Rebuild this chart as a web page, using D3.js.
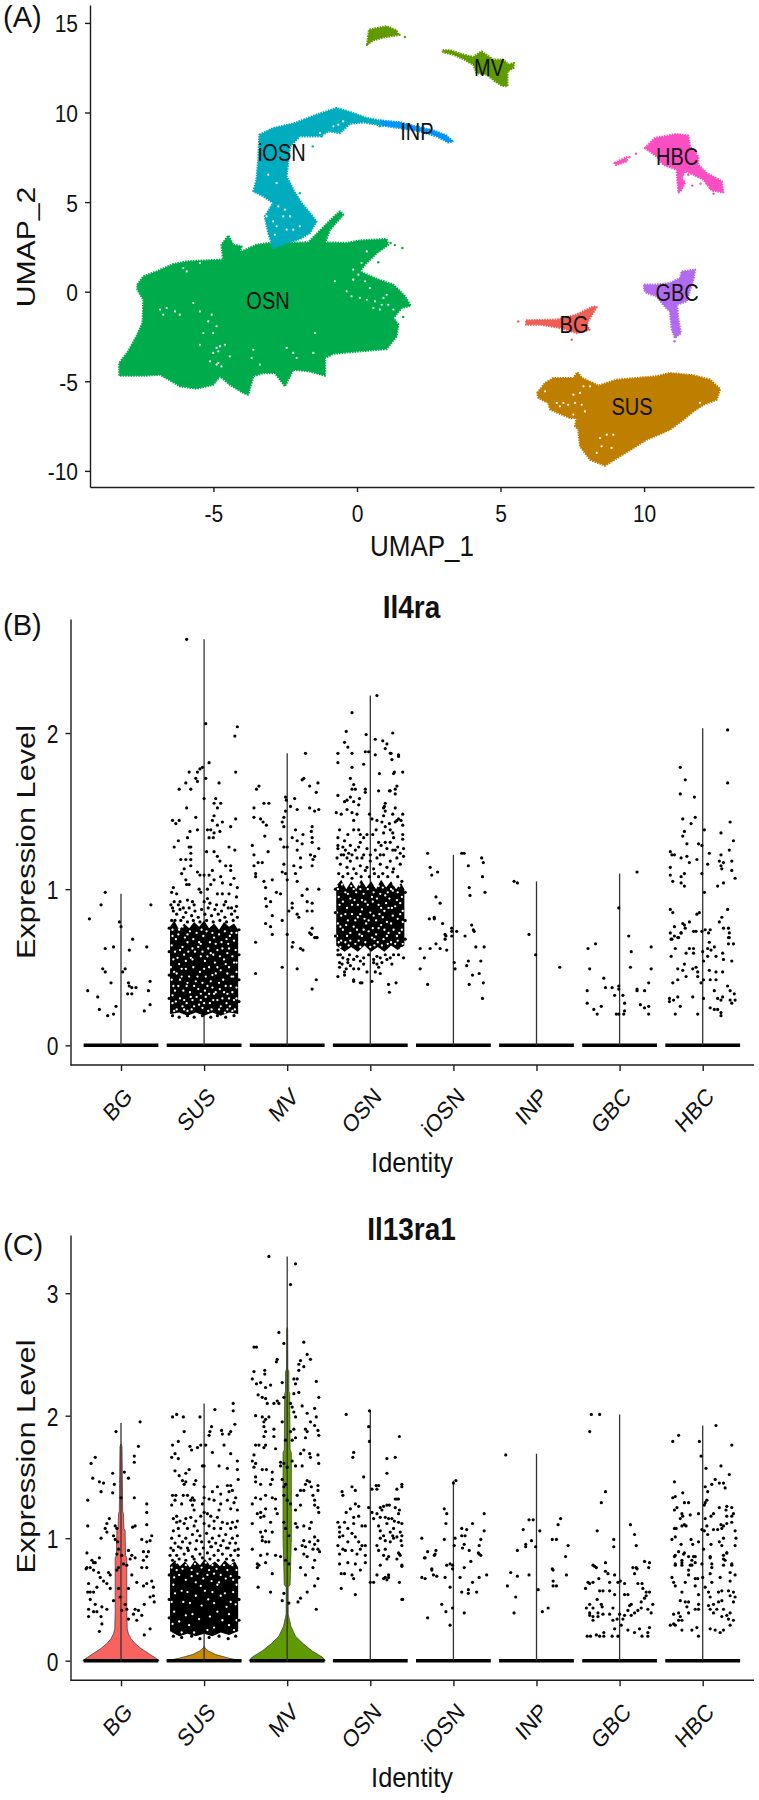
<!DOCTYPE html>
<html><head><meta charset="utf-8">
<style>html,body{margin:0;background:#fff}svg{display:block}text{font-family:"Liberation Sans",Arial,sans-serif;fill:#111}</style>
<script src="https://cdn.jsdelivr.net/npm/d3@7"></script></head><body><div id="c"></div>
<script>
const categories=["BG","SUS","MV","OSN","iOSN","INP","GBC","HBC"];
const umapTicksX=[-5,0,5,10], umapTicksY=[-10,-5,0,5,10,15];
const ticksB=[0,1,2], ticksC=[0,1,2,3];
const colorOSN="#00AB4C",colorIOSN="#00ACBD",colorINP="#0095FB",colorMV="#5F9A00",colorHBC="#F94FC3",colorBG="#EE5F58",colorGBC="#B26BEE",colorSUS="#BE7E00";

// UMAP cluster outlines, flat [UMAP_1,UMAP_2,...]
const osnShape=[-7.65,.39,-7.44,.86,-6.98,1.13,-6.4,1.54,-5.93,1.69,-5.18,1.75,-4.66,1.79,-4.72,2.62,-4.48,3.13,-4.31,2.62,-4.02,2.53,-4.08,2.2,-3.5,2.62,-3.03,2.72,-1.7,2.75,-.77,4.24,-.59,4.48,-.48,4.3,-.94,3.46,-1.11,2.75,-.36,2.72,.1,2.86,1.03,2.94,1.09,2.62,.69,2.16,.28,1.51,.1,1.13,.69,.71,1.27,.39,1.67,-.26,1.87,-.78,1.56,-.91,1.27,-1.47,1.44,-1.84,1.38,-2.49,1.03,-3.2,.1,-3.33,-.82,-3.46,-1.11,-3.7,-1.11,-4.69,-1.64,-4.45,-2.22,-4.35,-2.51,-5.28,-2.86,-4.54,-3.26,-4.54,-3.61,-4.72,-3.79,-5.75,-3.96,-5.65,-4.43,-5.19,-4.77,-4.72,-5.01,-5.19,-5.59,-5.41,-6.17,-5.28,-6.46,-5,-6.86,-4.63,-7.44,-4.69,-8.28,-4.69,-8.28,-3.98,-7.97,-3.33,-7.68,-2.49,-7.47,-1.75,-7.44,-.45,-7.65,.11];
const iosnShape=[-3.4,8.76,-2.92,9.13,-2.22,9.38,-1.41,9.88,-.71,10.25,-.13,9.97,.34,9.69,.8,9.56,.92,9.5,.92,9.26,.22,9.45,-.24,9.38,-.59,8.85,-1,8.95,-1.29,8.67,-1.99,8.67,-2.33,8.11,-2.39,7.37,-2.45,6.44,-2.22,5.69,-1.93,4.95,-1.64,4.39,-1.41,3.92,-1.64,3.27,-1.99,2.94,-2.45,2.72,-2.92,2.44,-3.09,3.27,-3.21,4.2,-2.92,4.95,-3.26,5.32,-3.61,5.6,-3.5,6.25,-3.44,7.37];
const inpShape=[.8,9.56,1.5,9.45,1.96,9.26,2.66,9,3.12,8.71,3.33,8.39,3.18,8.33,2.78,8.67,2.2,8.95,1.5,9.13,.92,9.26];
const mvShape=[2.98,13.47,3.24,13.47,3.71,13.23,4.05,13.1,4.34,13.41,4.5,13.23,4.75,12.95,5.1,12.95,5.27,12.67,5.47,12.76,5.45,12.48,5.24,12.3,5.24,11.46,5.04,11.5,4.81,11.74,4.52,12.11,4.17,12.2,4.05,12.67,3.71,12.98,3.36,13.23,3.01,13.36];
const mvShape2=[.35,13.78,.42,14.62,1.03,14.81,1.38,14.58,1.44,14.32,.98,14.21,.57,14.03];
const hbcShape=[10.03,8.02,10.38,8.58,11.14,8.8,11.54,8.71,11.6,8.11,11.89,7.55,11.89,7.09,12.18,6.62,12.71,6.16,12.76,5.54,12.36,5.65,12.07,6.25,11.72,6.53,11.43,6.72,11.31,6.34,11.43,6.1,11.31,5.69,11.2,5.54,11.16,6.25,11.14,6.81,10.67,7.09,10.44,7.55];
const hbcShape2=[8.97,7.18,9.4,7.51,9.4,7.27,9.02,7.07];
const bgShape=[5.89,-1.6,6.96,-1.56,7.65,-1.28,8.23,-.82,8.35,-.86,8.12,-1.47,8,-1.84,8.1,-2.12,7.65,-2.31,7.13,-2.03,6.38,-1.84,5.89,-1.84];
const gbcShape=[10,.39,10.44,.39,10.9,.48,11.25,.76,11.31,1.13,11.78,1.23,11.72,.67,11.6,.11,11.49,-.54,11.14,-.73,11.2,-1.56,11.28,-2.31,11.08,-2.59,10.97,-2.12,10.9,-1.1,10.67,-.73,10.44,-.26,10.09,-.07,10,.11];
const susShape=[6.28,-5.65,6.55,-5.1,6.84,-4.82,7.54,-4.82,7.68,-4.5,7.83,-4.82,8.23,-5.1,8.41,-5.25,9.05,-4.91,9.74,-4.82,10.44,-4.72,10.9,-4.54,11.72,-4.67,12.3,-4.91,12.65,-5.43,12.53,-6.03,12.07,-6.31,11.72,-6.68,11.37,-7.14,10.9,-7.7,10.09,-8.26,9.63,-8.72,9.16,-9.19,8.64,-9.71,8.12,-9.38,7.77,-8.63,7.71,-7.7,7.6,-7.51,7.65,-7.05,7.42,-7.05,6.73,-6.58,6.67,-6.21,6.32,-5.93];
// stray cells and gaps
const osnDots=[1.17,2.72,1.32,2.6,1.58,2.44,.74,1.64,1.61,-1.41];
const iosnDots=[-1.23,8.67,-1.54,8.11,-1.99,5.5,.8,9.23];
const mvDots=[1.48,14.34,1.67,14.21];
const hbcDots=[9.49,7.51,9.72,7.7,11.68,5.92,11.97,6.03,12.18,6.03,12.3,5.79,12.42,5.47,11.54,6.53];
const bgDots=[5.62,-1.66,7.48,-2.68];
const gbcDots=[11.06,-2.77];
const umapGaps=[.34,2.25,.16,1.6,-.13,1.23,.05,.95,.28,.58,.45,.2,-.13,.67,-.36,.02,-.19,-.26,-.77,.58,.34,-.45,.63,-.54,.92,-.35,1.03,-.17,.57,-.91,.8,-1,1.09,-.73,1.27,-1,.86,-.73,.1,-.35,-6.86,-1,-6.63,-.91,-6.34,-1.1,-6.17,-1.28,-6.75,-1.28,-5.47,-1.1,-5.06,-1.28,-5.18,-1.66,-4.89,-1.93,-5.01,-2.31,-5.35,-2.31,-4.77,-3.05,-5.01,-3.42,-4.6,-2.96,-5.12,-3.89,-4.89,-4.07,-4.72,-4.17,-4.43,-3.61,-3.61,-3.24,-3.67,-3.7,-2.45,-3.14,-2.22,-3.42,-1.46,-2.31,-1.52,-3.42,-2.1,-3.7,-3.38,-4.07,-5.47,-2.96,-5.7,-.63,-6.05,1.32,-5.47,1.6,-5.93,1.13,-4.83,-3.33,-4.89,-3.14,-4.83,-3.98,
-3.09,6.53,-2.8,6.06,-2.92,3.92,-2.8,3.65,-2.57,4.2,-2.45,3.46,-2.22,3.46,-1.99,3.65,-2.86,3.18,-2.33,4.2,-2.74,4.76,-2.51,4.58,-.82,9.23,-.65,9.32,-.48,9.5,-1.29,8.85,-3.15,4.2,
6.96,-6.21,7.19,-6.21,7.36,-6.31,7.07,-6.4,7.54,-5.75,7.77,-5.65,7.89,-5.28,8.12,-5.28,7.6,-6.21,7.83,-6.31,7.94,-6.68,7.54,-6.86,6.55,-5.56,8.47,-8.17,8.7,-7.98,8.93,-7.98,8.35,-9,8.52,-8.63,8.87,-8.72,11.95,-6.21];
const clusterNames=["OSN","iOSN","MV","INP","HBC","GBC","BG","SUS"];
const clusterLabelX=[-3.10,-2.62,4.60,2.09,11.15,11.15,7.56,9.58];
const clusterLabelY=[-.50,7.76,12.5,8.93,7.53,-.06,-1.84,-6.42];

// Il4ra: vertical line tops and jitter cells, flat [offset,value,...]
const maxB=[.97,2.6,1.87,2.24,1.22,1.05,1.1,2.03];
const b_BG=[-.19,.98,-.24,.9,-.38,.81,.36,.9,-.02,.79,0,.76,.14,.68,-.19,.62,-.09,.63,.1,.61,.31,.63,-.22,.49,-.19,.47,.05,.49,.02,.47,-.12,.4,.35,.41,.09,.4,.1,.38,.13,.37,.18,.37,-.4,.35,.33,.35,.08,.33,.13,.33,-.28,.31,-.06,.25,.35,.26,-.26,.23,.28,.22,-.16,.19,-.09,.2];
const b_SUS=[-.21,2.6,.02,2.06,.4,2.04,.37,1.98,.06,1.81,-.02,1.78,-.05,1.77,-.08,1.75,-.18,1.75,.38,1.75,-.1,1.71,-.08,1.69,.02,1.71,.18,1.68,-.22,1.68,-.3,1.64,-.16,1.64,0,1.58,.14,1.58,.12,1.55,.2,1.55,.16,1.52,-.21,1.52,-.1,1.46,.12,1.47,.1,1.44,.38,1.45,-.38,1.44,-.3,1.44,-.34,1.42,.22,1.43,.16,1.41,.32,1.4,-.08,1.38,.04,1.38,.08,1.38,-.17,1.37,.19,1.37,.12,1.36,.06,1.33,-.2,1.33,-.31,1.31,.11,1.33,-.18,1.27,-.16,1.27,-.36,1.27,.3,1.27,.37,1.25,-.16,1.23,.03,1.24,.12,1.24,.16,1.21,.19,1.18,-.28,1.19,-.22,1.19,-.16,1.19,-.24,1.13,-.27,1.1,-.16,1.15,-.08,1.11,-.05,1.09,0,1.09,.1,1.12,.06,1.09,.26,1.15,.32,1.15,.32,1.12,.2,1.08,.22,1.04,.36,1.07,.32,1.03,.12,1.06,.08,1.03,-.22,1.06,-.18,1.03,-.21,1.03,-.37,1.01,-.39,.98,-.33,.97,-.06,1,-.04,.98,.04,1,.4,1.01,.16,.97,.22,.97,.3,.97,-.2,.93,-.29,.92,-.36,.92,.04,.94,0,.92,.39,.95,.26,.92,-.38,.88,-.25,.88,-.12,.9,.15,.9,.33,.88,
-.4,.9,-.37,.86,-.33,.84,-.29,.87,-.25,.82,-.22,.85,-.18,.88,-.15,.83,-.11,.86,-.07,.82,-.03,.87,.01,.84,.05,.88,.09,.83,.13,.87,.17,.84,.21,.86,.25,.82,.29,.88,.33,.84,.37,.86,.4,.82,-.39,.8,-.35,.8,-.28,.8,-.2,.79,-.13,.8,-.05,.79,.03,.8,.11,.79,.19,.8,.27,.79,.35,.8,-.31,.9,-.14,.92,.07,.91,.24,.9,.39,.89,-.42,.75,.42,.74,-.42,.6,.42,.58,-.42,.45,.42,.42,-.42,.3,.42,.28,-.38,.19,-.3,.18,-.2,.19,-.12,.18,-.02,.19,.08,.18,.16,.19,.26,.18,.36,.19];
const b_MV=[.22,1.87,-.34,1.66,-.37,1.64,.2,1.71,.18,1.7,.27,1.66,.37,1.68,.35,1.62,-.02,1.59,-.01,1.57,.09,1.58,-.28,1.55,-.22,1.55,-.4,1.52,.04,1.53,.12,1.51,.27,1.52,.33,1.5,.38,1.51,-.02,1.5,-.4,1.46,-.32,1.45,-.29,1.43,-.25,1.41,-.04,1.46,-.06,1.43,-.04,1.4,.1,1.38,.3,1.4,.29,1.37,.3,1.33,.3,1.3,.19,1.35,.06,1.33,-.27,1.34,-.08,1.32,.12,1.31,-.42,1.28,-.04,1.27,0,1.27,.18,1.29,.38,1.26,-.23,1.24,-.4,1.22,.12,1.25,.28,1.22,.33,1.21,.31,1.19,-.35,1.17,-.3,1.17,-.4,1.15,.16,1.2,.16,1.14,-.04,1.16,-.06,1.11,-.02,1.1,.08,1.15,.1,1.1,.3,1.15,-.38,1.1,-.38,1.08,0,1.06,.12,1.05,-.28,1.05,-.18,1.06,-.26,1.01,-.13,.98,-.08,.97,.24,1,.38,1,.18,.96,-.26,.94,-.2,.92,-.25,.89,.06,.91,.06,.88,.02,.86,.24,.92,.3,.91,.24,.86,.3,.86,.14,.82,.12,.84,-.18,.83,-.06,.8,-.26,.78,-.2,.76,.3,.75,.27,.72,-.18,.71,0,.71,.35,.69,-.38,.66,.07,.66,.06,.63,.16,.62,.19,.61,.33,.69,.36,.69,.29,.71,-.06,.5,.12,.49,-.38,.46,.35,.42,.3,.36];
const b_OSN=[.08,2.24,-.22,2.13,-.29,2.01,-.05,1.99,.06,1.96,.15,1.95,.2,1.93,.27,2,-.31,1.94,-.27,1.91,-.22,1.87,-.39,1.87,-.06,1.88,-.02,1.88,.06,1.86,.24,1.87,.26,1.83,.34,1.86,-.39,1.81,-.08,1.8,-.22,1.78,.11,1.74,.29,1.75,-.24,1.71,-.2,1.67,-.18,1.64,-.22,1.64,-.06,1.64,-.06,1.62,.1,1.63,.24,1.63,-.39,1.6,-.28,1.57,-.31,1.56,-.24,1.59,-.2,1.56,-.13,1.58,-.14,1.54,.18,1.55,.16,1.52,-.41,1.49,-.35,1.48,-.28,1.51,-.22,1.49,-.16,1.48,-.2,1.44,-.01,1.48,.02,1.45,.08,1.44,.16,1.47,.14,1.43,.32,1.44,.18,1.9,.25,1.87,.34,1.85,.39,1.75,.28,1.74,.32,1.66,.3,1.64,.3,1.61,.23,1.63,.17,1.53,.3,1.52,.18,1.5,.39,1.48,.27,1.48,.34,1.45,.37,1.44,.23,1.42,.3,1.43,.39,1.41,.18,1.4,.24,1.38,.27,1.36,.39,1.35,.39,1.32,.28,1.33,.16,1.36,.18,1.3,.24,1.3,.4,1.26,.36,1.23,.3,1.25,-.39,1.33,-.37,1.38,-.27,1.35,-.31,1.31,-.2,1.38,-.14,1.38,-.12,1.35,-.04,1.35,-.08,1.33,-.39,1.28,-.33,1.27,-.24,1.28,-.18,1.25,-.04,1.26,-.35,1.22,-.28,1.2,-.22,1.22,-.1,1.2,0,1.22,.06,1.25,.1,1.3,.12,1.22,.03,1.35,.07,1.38,-.12,1.3,-.39,.58,-.39,.61,-.37,.53,-.37,.5,-.27,.55,-.27,.53,-.2,.55,-.12,.54,.04,.55,.04,.53,.12,.56,.14,.53,.1,.5,.2,.55,.28,.58,-.29,.49,-.2,.49,-.14,.49,-.04,.47,.06,.47,.12,.46,-.31,.47,-.39,.44,-.31,.45,-.2,.42,-.2,.41,-.12,.4,-.1,.4,.02,.41,.22,.39,.31,.4,.23,.34,
-.4,1.2,-.36,1.16,-.32,1.22,-.28,1.14,-.24,1.18,-.2,1.13,-.16,1.2,-.12,1.15,-.08,1.22,-.04,1.14,0,1.18,.04,1.13,.08,1.2,.12,1.16,.16,1.22,.2,1.14,.24,1.18,.28,1.13,.32,1.2,.36,1.16,.4,1.21,-.38,1.1,-.33,1.08,-.27,1.1,-.22,1.07,-.17,1.1,-.11,1.08,-.06,1.12,-.01,1.08,.05,1.1,.1,1.08,.15,1.1,.21,1.08,.27,1.11,.33,1.08,.38,1.05,-.39,1.26,-.3,1.25,-.26,1.23,-.14,1.27,.13,1.28,.2,1.26,.27,1.25,.33,1.27,-.42,1,-.42,.85,.42,.98,.42,.8,-.42,.7,.42,.68,-.36,.58,-.33,.56,-.25,.58,-.16,.57,-.08,.56,-.02,.58,.08,.57,.18,.58,.24,.56,.34,.58,.4,.56,-.34,.52,-.24,.51,-.08,.52,.08,.52,.26,.52];
const b_iOSN=[-.31,1.23,.1,1.23,.13,1.23,.34,1.2,.36,1.17,.18,1.15,-.28,1.14,-.26,1.09,-.19,1.11,.35,1.08,.19,1.01,.2,.96,.38,.98,-.21,.95,-.16,.91,-.29,.81,-.23,.82,-.23,.81,-.13,.78,.22,.77,.24,.74,-.02,.75,-.02,.73,.04,.73,-.09,.7,-.02,.7,.14,.7,-.1,.71,-.1,.68,.25,.73,-.4,.62,-.28,.62,-.21,.65,-.16,.62,-.08,.61,.27,.63,.37,.63,-.35,.56,.33,.54,.18,.54,.16,.51,.01,.53,.02,.49,-.4,.49,.23,.45,.31,.46,-.31,.39,.19,.39,.36,.4,.35,.3];
const b_INP=[-.27,1.05,-.23,1.04,-.09,.71,-.01,.58,.28,.5];
const b_GBC=[.21,1.11,-.01,.88,.11,.7,-.29,.65,-.38,.62,.38,.63,.14,.6,.13,.5,-.36,.49,.38,.49,-.19,.43,.35,.4,-.17,.37,-.09,.37,-.01,.38,-.01,.36,-.39,.35,.21,.36,.21,.35,.3,.35,-.06,.32,.04,.32,-.39,.27,.06,.27,.25,.26,-.22,.25,.3,.24,.35,.25,-.31,.23,-.27,.2,-.04,.2,-.01,.2,.05,.2,.06,.22,.35,.2];
const b_HBC=[.3,2.02,-.27,1.78,-.21,1.7,.3,1.68,-.27,1.61,-.1,1.59,-.09,1.46,-.24,1.45,-.14,1.42,.33,1.43,.02,1.38,-.22,1.37,-.24,1.34,.22,1.36,-.19,1.29,-.05,1.29,-.01,1.28,.37,1.31,.32,1.25,-.39,1.24,-.37,1.22,-.34,1.22,.08,1.23,.22,1.22,-.26,1.2,-.19,1.21,-.07,1.19,-.16,1.17,.06,1.16,.2,1.18,.25,1.17,.22,1.15,.23,1.13,.35,1.18,-.39,1.14,.35,1.12,-.01,1.1,-.39,1.09,-.22,1.1,-.26,1.08,.39,1.07,-.36,1.05,-.26,1.04,-.22,1.02,.25,1.04,.18,1.02,.02,.98,-.39,.87,-.36,.85,-.07,.84,-.04,.85,.3,.87,.23,.82,-.16,.79,.2,.79,-.24,.78,-.22,.77,-.34,.76,.25,.75,.31,.75,-.21,.75,-.11,.73,-.08,.73,-.01,.73,.03,.74,.09,.74,.07,.72,-.39,.72,-.26,.72,-.34,.7,-.29,.69,-.37,.68,.32,.72,.32,.69,-.38,.68,-.3,.69,-.26,.72,.31,.69,.31,.65,.37,.65,.08,.66,-.33,.62,-.16,.62,-.11,.62,-.2,.59,-.11,.59,.14,.63,.1,.61,.06,.62,0,.6,-.38,.57,.06,.57,.16,.57,.24,.59,.25,.55,.35,.54,.01,.54,-.22,.52,-.3,.49,-.24,.48,-.12,.49,-.08,.5,-.06,.47,.08,.48,.16,.47,.24,.47,-.2,.44,-.06,.44,-.3,.42,-.36,.4,.01,.42,.09,.42,.16,.42,-.02,.4,.3,.38,.14,.35,.33,.35,.38,.33,-.12,.31,-.3,.31,-.4,.3,-.4,.28,-.35,.29,.01,.3,.18,.3,.24,.31,.22,.29,.33,.29,.39,.29,.35,.27,-.27,.25,.09,.24,.14,.23,.18,.23,.22,.21,.22,.19,-.33,.2,-.06,.2];
const denseSusB=[-.41,.2,-.41,.76,-.36,.8,-.3,.74,-.24,.78,-.18,.75,-.12,.79,-.06,.76,0,.8,.06,.75,.12,.78,.18,.74,.24,.79,.3,.76,.36,.78,.41,.74,.41,.2,.3,.21,.2,.19,.1,.21,0,.19,-.1,.21,-.2,.19,-.3,.21];
const denseOsnB=[-.41,.64,-.41,1.02,-.35,1.06,-.29,1,-.23,1.05,-.17,1,-.11,1.06,-.05,1.01,.01,1.05,.07,1,.13,1.06,.19,1.01,.25,1.05,.31,1,.37,1.04,.41,1,.41,.64,.33,.61,.25,.64,.17,.6,.09,.63,.01,.6,-.07,.64,-.15,.6,-.23,.63,-.31,.6];
const gapsSusB=[-.2,.71,-.04,.65,.16,.61,.28,.59,-.27,.49,-.04,.57,.04,.57,.16,.5,.18,.4,.28,.46,.28,.33,-.04,.29,0,.27,-.2,.4,-.37,.38,-.33,.46,-.29,.61,.12,.69,-.08,.44,.36,.53,.36,.29,.2,.25,-.12,.25,-.33,.23,.28,.23,.12,.33,.04,.38,-.16,.31,-.24,.29,0,.49,.24,.55,-.37,.55,.32,.38,-.04,.33,-.29,.42,.16,.29,.08,.59,-.14,.55,-.22,.54,-.38,.27,.38,.61,-.3,.74,.33,.72,-.2,.66,.27,.68,-.38,.7,.1,.45,-.14,.62,.35,.44,-.03,.74,.05,.22,-.2,.22,.34,.22,
-.38,.74,-.34,.68,-.31,.71,-.26,.76,-.23,.69,-.17,.73,-.13,.68,-.09,.72,-.06,.66,-.01,.7,.03,.73,.07,.66,.1,.72,.14,.65,.18,.71,.21,.66,.25,.73,.29,.65,.31,.7,.36,.67,.39,.72,-.39,.64,-.35,.6,-.32,.56,-.26,.63,-.24,.58,-.19,.6,-.16,.56,-.11,.6,-.07,.63,-.02,.6,.01,.54,.05,.62,.11,.58,.13,.53,.19,.57,.22,.62,.26,.52,.3,.62,.34,.57,.39,.53,-.4,.5,-.36,.47,-.3,.52,-.27,.44,-.22,.49,-.18,.44,-.13,.5,-.1,.41,-.05,.47,.02,.44,.06,.5,.08,.41,.14,.46,.2,.48,.23,.42,.26,.38,.3,.5,.33,.44,.39,.47,-.39,.42,-.35,.35,-.31,.38,-.25,.35,-.21,.38,-.17,.34,-.12,.38,-.07,.36,-.02,.4,.01,.35,.06,.33,.1,.37,.14,.34,.19,.36,.24,.34,.3,.3,.34,.34,.39,.37,-.38,.32,-.34,.28,-.29,.3,-.26,.25,-.21,.27,-.14,.29,-.09,.31,-.06,.26,.02,.31,.07,.27,.11,.29,.18,.23,.22,.3,.27,.27,.31,.25,.39,.3,-.36,.22,-.24,.23,-.15,.23,-.02,.24,.09,.23,.25,.21,.37,.23];
const gapsOsnB=[-.2,1.0,-.05,1.03,.1,1.02,.25,1.0,.35,1.02,-.3,.98,-.12,1,.04,.98,.18,.96,.32,.93,-.37,.9,-.22,.9,-.06,.92,.1,.9,.26,.88,-.3,.84,-.15,.82,0,.85,.15,.82,.36,.84,-.36,.76,-.2,.76,-.05,.78,.1,.75,.25,.78,-.28,.7,-.1,.7,.05,.68,.2,.7,.35,.72,-.38,.66,-.18,.65,0,.63,.3,.65,.14,.64,.27,.99,-.4,1.02,-.1,.87,.07,.8,.22,.88,
-.39,1,-.34,1.03,-.27,.97,-.23,1.02,-.17,.98,-.13,1.03,-.08,.97,-.03,1,.02,.95,.06,1.02,.12,.97,.15,1.01,.21,.98,.28,1.03,.33,.98,.38,.95,-.38,.95,-.33,.92,-.28,.88,-.24,.94,-.19,.93,-.15,.9,-.1,.93,-.03,.9,.03,.92,.08,.94,.13,.88,.19,.91,.23,.94,.3,.89,.36,.91,.39,.86,-.4,.85,-.35,.83,-.27,.8,-.22,.84,-.18,.8,-.12,.84,-.07,.81,-.02,.8,.04,.83,.11,.84,.17,.86,.2,.79,.27,.83,.33,.81,.39,.79,-.39,.78,-.33,.74,-.29,.77,-.24,.72,-.16,.74,-.13,.71,-.08,.74,-.02,.73,.03,.75,.07,.71,.13,.77,.17,.74,.22,.72,.28,.74,.32,.7,.38,.74,-.4,.7,-.35,.67,-.3,.66,-.24,.67,-.14,.67,-.06,.66,.02,.69,.09,.66,.16,.68,.25,.66,.33,.67,.39,.65,-.36,.63,-.26,.64,-.12,.63,.05,.64,.21,.65,.37,.62];

// Il13ra1
const maxC=[1.94,2.1,3.3,2.04,1.47,1.69,2.01,1.92];
const c_BG=[.23,1.95,-.06,1.87,.21,1.75,-.31,1.66,-.36,1.61,.16,1.67,.16,1.62,.04,1.54,-.1,1.53,-.34,1.49,-.26,1.46,-.21,1.45,.09,1.49,-.08,1.44,-.24,1.38,-.1,1.37,0,1.33,.16,1.33,-.4,1.31,.31,1.28,.31,1.21,-.14,1.16,-.4,1.1,-.17,1.12,-.19,1.08,-.07,1.1,-.05,1.08,.14,1.09,.17,1.1,.31,1.11,-.24,1,-.17,1.05,-.09,1.02,-.07,.99,-.04,.97,-.03,.91,.25,.99,.35,.98,.37,1.02,.31,.97,.27,.89,.33,.89,.31,.85,-.41,.88,.09,.9,.11,.83,.17,.84,-.26,.84,-.33,.8,-.37,.76,-.41,.76,-.05,.87,.01,.86,.03,.79,.07,.78,-.03,.76,.25,.76,-.35,.82,-.42,.75,-.31,.8,-.33,.74,-.27,.72,-.15,.72,-.13,.7,-.25,.68,-.21,.65,-.17,.63,-.13,.59,-.39,.63,-.37,.56,-.29,.6,-.4,.56,-.33,.56,-.37,.5,-.31,.46,-.39,.42,-.33,.4,-.29,.4,-.17,.42,-.09,.49,-.23,.44,-.39,.36,-.24,.36,-.23,.3,-.26,.24,-.05,.74,-.03,.59,-.01,.52,.05,.46,.01,.41,.07,.42,.13,.86,.13,.7,.09,.59,.19,.64,.27,.61,.31,.63,.27,.82,.31,.76,.37,.65,.39,.6,.39,.53,.35,.52,.4,.48,.28,.46,.17,.42,.21,.41,.15,.38,.25,.37,.19,.33,.09,.34,.35,.26,.28,.21];
const c_SUS=[-.33,2.01,-.38,1.99,-.25,1.99,-.05,1.99,.13,2.05,.35,2.1,.35,2.04,.37,1.93,.09,1.91,.07,1.87,.06,1.84,.21,1.88,.22,1.85,.32,1.87,.3,1.85,-.24,1.87,-.31,1.79,-.38,1.76,-.04,1.76,-.08,1.74,-.17,1.75,-.15,1.72,.02,1.76,.24,1.76,.1,1.7,.32,1.69,-.35,1.69,-.39,1.66,-.31,1.65,.4,1.63,-.02,1.59,0,1.59,.18,1.59,-.35,1.55,-.3,1.51,-.22,1.53,-.18,1.56,.28,1.57,.4,1.56,-.26,1.47,-.22,1.46,-.24,1.44,-.12,1.44,-.1,1.47,.41,1.48,.28,1.43,.32,1.43,.34,1.39,.3,1.38,.16,1.42,.2,1.36,.1,1.38,0,1.42,-.38,1.35,-.34,1.35,-.25,1.35,-.2,1.35,-.14,1.33,-.16,1.31,-.12,1.31,0,1.33,.06,1.32,.12,1.31,-.02,1.28,-.39,1.27,-.35,1.31,-.27,1.28,-.14,1.27,.2,1.28,.28,1.31,.38,1.33,.36,1.29,.18,1.23,.32,1.24,.4,1.23,.04,1.2,0,1.21,.08,1.18,-.12,1.23,-.33,1.18,-.37,1.16,-.22,1.16,-.16,1.17,-.1,1.14,-.04,1.18,-.29,1.14,-.33,1.13,-.24,1.12,.12,1.14,.16,1.17,.22,1.13,.28,1.12,.34,1.13,.4,1.14,-.12,1.1,0,1.12,.06,1.1,-.37,1.06,-.31,1.08,-.2,1.08,-.08,1.06,.12,1.08,.2,1.08,.32,1.08,.38,1.09,-.39,1,-.3,1.02,-.22,1,-.14,1.03,-.05,1.02,.03,1.04,.1,1,.18,1.02,.26,1.03,.34,1,.4,1.02,-.35,.96,-.26,.97,-.17,.96,-.09,.98,.06,.97,.14,.96,.23,.98,.31,.96,.38,.96,-.4,.92,-.31,.93,-.2,.92,-.03,.97,.09,.93,.2,.94,.29,.92,.41,.91,
-.41,.86,-.37,.9,-.33,.86,-.28,.92,-.24,.87,-.19,.9,-.14,.85,-.1,.91,-.05,.87,-.01,.92,.04,.88,.08,.93,.12,.86,.17,.9,.22,.87,.27,.92,.32,.86,.37,.9,.41,.86,-.38,.82,-.3,.83,-.22,.82,-.12,.83,-.02,.84,.07,.83,.17,.82,.27,.83,.35,.82,-.42,.7,.42,.68,-.42,.5,.42,.5,-.42,.35,.42,.33,-.37,.2,-.27,.19,-.15,.2,-.05,.18,.06,.19,.18,.2,.29,.18,.38,.2];
const c_MV=[-.22,3.3,.1,3.24,.04,3.07,-.1,2.68,-.04,2.59,.2,2.6,-.4,2.56,-.37,2.56,.24,2.5,.28,2.46,-.12,2.46,-.13,2.44,.16,2.45,.14,2.42,.2,2.4,.14,2.37,-.4,2.36,-.42,2.3,-.27,2.37,-.27,2.34,.08,2.3,.12,2.3,.1,2.26,.35,2.28,-.37,2.26,-.32,2.27,-.26,2.23,-.2,2.25,-.06,2.27,.08,2.18,.14,2.19,.38,2.15,-.35,2.17,-.3,2.15,-.26,2.14,-.24,2.1,-.16,2.1,-.1,2.1,-.12,2.12,.04,2.1,.06,2.07,-.04,2.15,.18,2.08,.33,2.06,.08,2.03,.1,1.99,.24,2.02,.35,1.99,-.38,2,-.3,1.99,-.26,1.97,-.22,1.99,-.28,1.95,-.06,1.95,.33,1.92,.28,1.95,-.28,1.91,-.26,1.87,-.28,1.83,-.16,1.89,-.16,1.83,.04,1.87,.08,1.89,.22,1.89,.24,1.87,.22,1.82,.37,1.88,.38,1.84,-.02,1.8,.1,1.82,.06,1.8,-.38,1.76,-.34,1.76,-.28,1.74,-.26,1.76,-.14,1.73,-.4,1.68,-.42,1.63,-.38,1.61,.2,1.72,.16,1.69,.27,1.69,.28,1.66,.37,1.68,.38,1.61,-.08,1.62,-.04,1.61,0,1.58,-.08,1.59,.06,1.63,.1,1.59,.18,1.59,-.4,1.58,-.3,1.56,-.25,1.56,-.18,1.54,-.38,1.5,-.06,1.48,-.02,1.44,-.04,1.42,.24,1.47,.22,1.44,.27,1.46,-.38,1.46,-.32,1.44,-.2,1.44,-.18,1.48,.37,1.43,.37,1.39,.16,1.39,.2,1.39,.12,1.35,.29,1.42,.31,1.35,.33,1.31,-.38,1.33,-.18,1.33,-.14,1.32,-.32,1.32,-.26,1.35,-.42,1.28,-.04,1.35,0,1.31,.04,1.28,.33,1.27,.37,1.25,.38,1.21,-.26,1.24,-.32,1.21,-.36,1.2,-.28,1.18,-.32,1.17,-.12,1.2,-.14,1.24,.16,1.27,.1,1.23,-.42,1.12,-.32,1.05,-.26,1.06,-.18,1.05,-.2,1.13,.1,1.12,.12,1.09,.29,1.13,.27,1.08,.2,1.1,-.04,1.13,-.02,1.08,.02,1.02,-.3,1.01,-.3,.98,-.26,.97,-.22,.97,.33,1.01,.27,.97,.2,.98,.37,.98,.33,.95,.18,.94,.22,.93,.31,.91,.37,.91,.39,.89,-.42,.91,.1,.91,.2,.87,.24,.85,.33,.82,-.32,.86,-.24,.87,-.14,.86,-.08,.85,-.26,.8,-.36,.79,-.36,.76,-.02,.82,.02,.79,-.34,.78,-.18,.71,.16,.76,.22,.7,.31,.76,.37,.67,-.35,.6,-.2,.56,.33,.61,.24,.56,-.04,.55,-.06,.49,.02,.47,.16,.51,.13,.48,.35,.42];
const c_OSN=[-.01,2.04,-.29,2.01,-.02,1.91,-.01,1.79,.35,1.83,-.2,1.7,-.21,1.66,.2,1.65,.3,1.66,.2,1.53,-.08,1.5,.07,1.43,.1,1.43,.08,1.4,.02,1.4,-.22,1.42,-.18,1.39,-.34,1.38,-.33,1.35,.32,1.32,-.18,1.28,-.14,1.26,-.24,1.24,-.29,1.21,-.02,1.25,.02,1.21,.12,1.25,.16,1.26,.2,1.27,.14,1.23,.08,1.2,-.39,1.13,-.37,1.09,-.31,1.13,-.2,1.17,-.14,1.18,-.2,1.12,-.1,1.1,-.06,1.1,-.27,1.08,-.37,1.05,-.33,1.02,-.22,1.04,-.18,1.01,-.37,1.01,.04,1.16,.12,1.17,.18,1.17,.26,1.16,.1,1.1,.2,1.12,.28,1.08,.34,1.13,.12,1.06,.24,1.05,.16,1.02,.12,1,.32,1.01,-.27,.97,-.39,.94,-.33,.91,-.14,.97,-.1,.94,-.06,.94,-.12,.91,.08,.94,.18,.91,.24,.97,.1,.9,-.37,.87,-.3,.9,-.22,.9,-.16,.87,-.06,.86,.16,.86,.2,.83,.32,.83,-.37,.79,-.27,.8,-.18,.79,-.06,.8,.12,.78,-.35,.59,-.18,.54,0,.64,.04,.64,-.35,.71,-.31,.71,-.22,.7,-.2,.67,.08,.7,.22,.68,.2,.66,.16,.67,-.12,.74,.38,1.44,.38,1.42,.32,1.4,.3,1.32,.34,1.32,.23,1.27,.3,1.25,.34,1.2,.35,1.23,.29,1.14,.22,1.16,.38,1.12,.36,1.05,.38,1.02,.28,1,.27,1.02,.37,.98,.38,.94,.18,.98,.34,.88,.36,.86,.22,.85,.38,.77,.35,.87,.38,.78,.35,.64,.38,.5,.39,.5,.18,.68,.22,.7];
const c_iOSN=[.03,1.47,0,1.45,-.11,1.24,-.08,1.2,.37,1.2,-.09,1.12,.23,1.12,.1,1.08,.16,1.07,.37,1.06,.1,1.02,.14,1.02,-.38,1,-.11,.99,.02,1,.33,.99,.01,.94,.13,.95,.31,.94,.11,.92,.19,.9,-.31,.89,-.21,.9,-.23,.86,-.35,.84,.3,.88,.33,.86,.21,.81,-.08,.78,-.01,.78,.13,.76,-.26,.75,-.34,.84,-.22,.87,-.04,.79,-.01,.75,.31,.87,-.26,.74,-.24,.7,-.2,.69,-.38,.68,-.34,.67,-.1,.68,.08,.68,.31,.68,.4,.7,.23,.64,-.04,.6,.1,.56,.18,.58,.18,.55,.28,.56,-.14,.46,-.09,.4,-.01,.43,-.31,.35,.13,.39,-.04,.29];
const c_INP=[-.37,1.68,-.09,1.15,-.04,1.15,.29,1.16,.26,1.11,-.16,1.07,.04,1.06,.19,.99,.24,.99,-.13,.95,-.13,.93,-.06,.98,-.01,.93,.38,.94,-.23,.9,.35,.85,.19,.75,-.31,.72,-.23,.69,-.09,.7,.2,.74,.2,.65,.2,.61,.24,.61,.36,.7,-.35,.61,.02,.58,-.25,.52,.14,.43,.07,.4,-.27,.39];
const c_GBC=[-.34,2.01,-.24,2.01,-.36,1.87,-.17,1.38,-.22,1.29,-.27,1.06,.13,1.11,.18,1.03,-.07,.99,-.07,.93,.2,.94,.3,.81,.36,.8,-.3,.77,-.17,.8,.16,.76,.2,.76,.35,.76,-.32,.78,-.28,.76,.21,.75,.18,.71,-.17,.73,-.14,.71,-.06,.7,-.25,.67,-.32,.64,-.38,.64,-.41,.59,-.36,.63,-.12,.64,-.02,.64,.01,.65,.06,.63,.22,.63,.27,.63,.28,.59,.32,.56,-.24,.57,-.2,.57,-.12,.57,-.06,.54,.06,.54,.1,.54,.36,.56,.32,.53,.3,.51,.26,.48,-.27,.5,-.22,.46,-.36,.46,-.4,.43,-.32,.43,-.21,.44,-.08,.43,.12,.45,.14,.46,.1,.41,.22,.41,.26,.43,.34,.42,.4,.46,-.36,.39,-.26,.39,-.2,.38,-.32,.36,-.26,.36,-.36,.37,-.12,.38,0,.38,.06,.37,.14,.37,.18,.39,.38,.39,-.32,.33,-.08,.33,-.03,.34,.04,.34,.02,.29,-.06,.26,.1,.25,.18,.23,.24,.26,.36,.27,.34,.23,-.39,.2,-.35,.2,-.28,.21,-.24,.2,-.19,.23,-.19,.2,-.09,.2,-.02,.2,.27,.2,.34,.2];
const c_HBC=[.16,1.92,-.29,1.84,-.36,1.79,-.04,1.79,.35,1.76,-.02,1.67,.22,1.59,.04,1.57,.32,1.52,.15,1.48,-.34,1.46,.2,1.45,.25,1.45,.03,1.42,.11,1.44,.27,1.41,.06,1.38,-.24,1.37,-.36,1.33,-.33,1.34,-.22,1.29,-.17,1.29,.03,1.29,.05,1.31,.02,1.27,-.31,1.25,-.34,1.23,-.05,1.2,-.15,1.19,.2,1.25,.29,1.26,.35,1.25,.28,1.23,.37,1.2,.29,1.18,.35,1.18,-.25,1.2,-.24,1.18,-.27,1.16,.13,1.2,.1,1.18,.03,1.16,-.22,1.11,-.25,1.1,-.2,1.1,.35,1.13,.29,1.12,.22,1.11,-.34,1.08,-.32,1.08,-.01,1.07,.02,1.06,.05,1.1,.13,1.07,.18,1.07,.25,1.1,.23,1.08,.39,1.06,-.33,1.01,-.37,.99,-.14,.99,-.05,.97,.25,1,.4,1,.06,1.03,-.26,.95,-.12,.95,.1,.95,.2,.97,.23,.94,.39,.94,-.29,.89,-.22,.88,.01,.91,.29,.88,.25,.86,.27,.82,-.34,.85,-.25,.82,-.17,.85,-.09,.85,-.13,.82,-.09,.8,.09,.84,-.33,.78,-.25,.78,-.15,.78,-.01,.79,.11,.79,.25,.78,.35,.78,-.33,.79,-.25,.8,-.33,.86,-.23,.87,-.11,.85,-.17,.74,-.13,.78,-.17,.7,.09,.85,.11,.76,.09,.71,.29,.88,.25,.83,.35,.79,.33,.72,.39,.7,.21,.68,-.37,.68,-.35,.64,-.33,.61,-.09,.67,-.06,.67,0,.68,.11,.64,.33,.65,-.09,.61,-.21,.64,-.25,.56,.03,.6,.07,.56,.19,.56,.23,.57,.31,.57,.37,.56,.33,.53,.39,.52,.37,.48,-.05,.54,.09,.52,-.21,.48,-.27,.49,-.17,.48,.23,.49,.19,.48,.13,.46,.07,.45,-.05,.46,-.09,.42,-.05,.42,-.19,.44,-.17,.39,.09,.42,.17,.42,.25,.42,.33,.39,.29,.37,.13,.39,-.29,.39,-.35,.38,-.27,.36,-.25,.33,-.29,.33,.23,.36,.31,.34,.37,.33,.33,.29,-.35,.3,-.39,.29,-.33,.29,-.25,.25,-.13,.25,-.07,.27,.09,.26,.15,.25,.21,.23,.25,.25,-.05,.2];
const denseSusC=[-.41,.24,-.41,.78,-.35,.82,-.29,.77,-.23,.81,-.17,.76,-.11,.82,-.05,.78,.01,.83,.07,.78,.13,.81,.19,.77,.25,.82,.31,.78,.37,.81,.41,.76,.41,.24,.3,.21,.2,.23,.1,.2,0,.22,-.1,.2,-.2,.22,-.3,.2];
const gapsSusC=[-.04,.61,.16,.62,-.27,.57,-.14,.38,.12,.71,.2,.7,.32,.69,-.33,.74,-.27,.23,-.12,.23,.04,.25,.22,.33,.36,.25,.32,.48,.16,.4,-.37,.62,-.08,.71,.25,.55,-.25,.48,.05,.5,-.3,.32,
-.39,.76,-.33,.8,-.26,.75,-.22,.78,-.15,.74,-.11,.79,-.03,.76,.02,.8,.06,.74,.1,.78,.15,.75,.24,.78,.28,.74,.34,.78,.39,.74,-.36,.68,-.3,.7,-.22,.66,-.15,.69,-.1,.64,-.01,.67,.04,.7,.09,.65,.18,.64,.26,.67,.35,.66,.39,.62,-.35,.55,-.2,.56,-.1,.53,.01,.57,.1,.56,.2,.53,.35,.56,-.39,.48,-.17,.47,-.03,.45,.12,.47,.27,.44,.38,.46,-.36,.4,-.22,.37,-.06,.34,.07,.36,.3,.38,-.38,.3,-.18,.29,.12,.27,.3,.29,.39,.33];
// violin half-widths, flat [value,halfWidth,...]
const violinBG=[0,.46,.02,.42,.06,.33,.1,.24,.14,.17,.18,.12,.22,.09,.26,.075,.4,.07,.7,.07,.84,.07,.86,.055,1.06,.05,1.08,.035,1.2,.03,1.22,.02,1.4,.018,1.75,.012,1.77,0];
const violinSUS=[0,.45,.02,.3,.05,.14,.08,.05,.11,.004,.12,0];
const violinMV=[0,.46,.03,.42,.08,.3,.14,.19,.2,.1,.28,.045,.38,.012,.6,.012,.62,.035,1,.05,1.7,.05,1.72,.035,2.18,.03,2.2,.02,2.36,.02,2.38,.008,2.7,.006,2.72,0];

const pairs=a=>d3.range(0,a.length,2).map(i=>[a[i],a[i+1]]);
const W=759,H=1800;
const svg=d3.select("#c").append("svg").attr("width",W).attr("height",H).attr("viewBox",`0 0 ${W} ${H}`);
svg.append("rect").attr("width",W).attr("height",H).attr("fill","#fff");
const AXC="#1c1c1c";
function label(x,y,s,o={}){
  return svg.append("text").attr("transform",`translate(${x},${y}) scale(${o.sx||1},${o.sy||1}) rotate(${o.r||0})`)
    .attr("text-anchor",o.a||"middle").attr("dy",o.dy||0).attr("font-size",o.fs).attr("font-weight",o.b?"bold":"normal").text(s);
}
function styleAxis(g){g.selectAll("path,line").attr("stroke",AXC).attr("stroke-width",1.4);g.selectAll("text").attr("fill","#1a1a1a").attr("font-family",'"Liberation Sans",Arial,sans-serif');}
const plainTick=d=>String(d);

/* ---------- A ---------- */
const ux=d3.scaleLinear().domain([-9.3,13.83]).range([90,754]);
const uy=d3.scaleLinear().domain([-10.9,16]).range([487,5]);
const uline=d3.line().x(d=>ux(d[0])).y(d=>uy(d[1])).curve(d3.curveLinearClosed);
const gU=svg.append("g");
[[osnShape,colorOSN],[iosnShape,colorIOSN],[inpShape,colorINP],[mvShape,colorMV],[mvShape2,colorMV],[hbcShape,colorHBC],[hbcShape2,colorHBC],[bgShape,colorBG],[gbcShape,colorGBC],[susShape,colorSUS]]
 .forEach(([s,c])=>gU.append("path").attr("d",uline(pairs(s))).attr("fill",c).attr("stroke",c).attr("stroke-width",2.2).attr("stroke-dasharray","1.6 1").attr("stroke-linejoin","round"));
[[osnDots,colorOSN],[iosnDots,colorIOSN],[mvDots,colorMV],[hbcDots,colorHBC],[bgDots,colorBG],[gbcDots,colorGBC]]
 .forEach(([s,c])=>gU.selectAll(null).data(pairs(s)).join("circle").attr("cx",d=>ux(d[0])).attr("cy",d=>uy(d[1])).attr("r",1.2).attr("fill",c));
gU.selectAll(null).data(pairs(umapGaps)).join("circle").attr("cx",d=>ux(d[0])).attr("cy",d=>uy(d[1])).attr("r",1.1).attr("fill","#fff");
clusterNames.forEach((n,i)=>label(ux(clusterLabelX[i]),uy(clusterLabelY[i]),n,{fs:20,sy:1.15,dy:".36em"}));
const axUx=svg.append("g").attr("transform","translate(0,487)").call(d3.axisBottom(ux).tickValues(umapTicksX).tickSize(5).tickSizeOuter(0).tickFormat(plainTick));
axUx.call(styleAxis);axUx.selectAll("text").attr("y",0).attr("dy",".36em").attr("font-size",21).attr("transform","translate(0,26) scale(1,1.18)");
const axUy=svg.append("g").attr("transform","translate(90,0)").call(d3.axisLeft(uy).tickValues(umapTicksY).tickSize(5).tickSizeOuter(0).tickFormat(plainTick));
axUy.call(styleAxis);axUy.selectAll("text").attr("x",0).attr("dy",".36em").attr("font-size",21).attr("transform","translate(-12,0) scale(1,1.18)");
label(422,556,"UMAP_1",{fs:26,sy:1.13});
label(35,247,"UMAP_2",{fs:26,sy:1.16,r:-90});
label(3,27,"(A)",{fs:29,a:"start"});
label(3,635,"(B)",{fs:29,a:"start"});
label(3,1255,"(C)",{fs:29,a:"start"});

/* ---------- violins ---------- */
const x=d3.scalePoint().domain(categories).range([121,702.7]);
function panel(o){
  const y=d3.scaleLinear().domain(o.dom).range(o.rng), st=x.step();
  const g=svg.append("g");
  const area=cx=>d3.area().y(d=>y(d[0])).x0(d=>cx-d[1]*st).x1(d=>cx+d[1]*st);
  (o.violins||[]).forEach(v=>g.append("path").attr("d",area(x(v.c))(pairs(v.s))).attr("fill",v.f).attr("stroke","#333").attr("stroke-width",.7));
  categories.forEach((c,i)=>{
    const cx=x(c);
    g.append("line").attr("x1",cx-.45*st).attr("x2",cx+.45*st).attr("y1",y(0)).attr("y2",y(0)).attr("stroke","#000").attr("stroke-width",3.4);
    g.append("line").attr("x1",cx).attr("x2",cx).attr("y1",y(0)).attr("y2",y(o.max[i])).attr("stroke","#333").attr("stroke-width",1.3);
  });
  (o.dense||[]).forEach(d=>{
    const cx=x(d.c);
    g.append("path").attr("d",d3.line().x(p=>cx+p[0]*st).y(p=>y(p[1])).curve(d3.curveLinearClosed)(pairs(d.s))).attr("fill","#000");
    g.selectAll(null).data(pairs(d.gaps)).join("circle").attr("cx",p=>cx+p[0]*st).attr("cy",p=>y(p[1])).attr("r",1.15).attr("fill","#fff");
  });
  o.cells.forEach((arr,i)=>{
    const cx=x(categories[i]);
    g.selectAll(null).data(pairs(arr)).join("circle").attr("cx",p=>cx+p[0]*st).attr("cy",p=>y(p[1])).attr("r",1.6).attr("fill","#000");
  });
  const ay=svg.append("g").attr("transform","translate(70.5,0)").call(d3.axisLeft(y).tickValues(o.ticks).tickSize(5).tickSizeOuter(0).tickFormat(plainTick));
  ay.call(styleAxis);ay.selectAll("text").attr("x",0).attr("dy",".36em").attr("font-size",21).attr("transform","translate(-12,0) scale(1,1.25)");
  const ab=svg.append("g").attr("transform",`translate(0,${o.rng[0]})`).call(d3.axisBottom(x).tickSize(6).tickSizeOuter(0));
  ab.select("path").attr("d","M70.5,0H754");
  ab.call(styleAxis);
  ab.selectAll("text").attr("y",0).attr("dy",0).attr("text-anchor","end").attr("font-size",21).attr("transform","translate(12,33) scale(1,1.15) rotate(-45)");
  label(411.5,o.titleY,o.title,{fs:28,sy:1.15,b:true});
  label(412,o.rng[0]+107,"Identity",{fs:25.4,sy:1.1});
  label(35,o.ylabCy,"Expression Level",{fs:26.5,sy:1.16,r:-90});
}
panel({dom:[-.126,2.73],rng:[1065,619],ticks:ticksB,max:maxB,title:"Il4ra",titleY:618,ylabCy:842,
  cells:[b_BG,b_SUS,b_MV,b_OSN,b_iOSN,b_INP,b_GBC,b_HBC],
  dense:[{c:"SUS",s:denseSusB,gaps:gapsSusB},{c:"OSN",s:denseOsnB,gaps:gapsOsnB}]});
panel({dom:[-.16,3.475],rng:[1680.3,1235],ticks:ticksC,max:maxC,title:"Il13ra1",titleY:1240,ylabCy:1456.5,
  cells:[c_BG,c_SUS,c_MV,c_OSN,c_iOSN,c_INP,c_GBC,c_HBC],
  violins:[{c:"BG",s:violinBG,f:"#F8635F"},{c:"SUS",s:violinSUS,f:"#C98B00"},{c:"MV",s:violinMV,f:"#5F9A00"}],
  dense:[{c:"SUS",s:denseSusC,gaps:gapsSusC}]});
</script></body></html>
